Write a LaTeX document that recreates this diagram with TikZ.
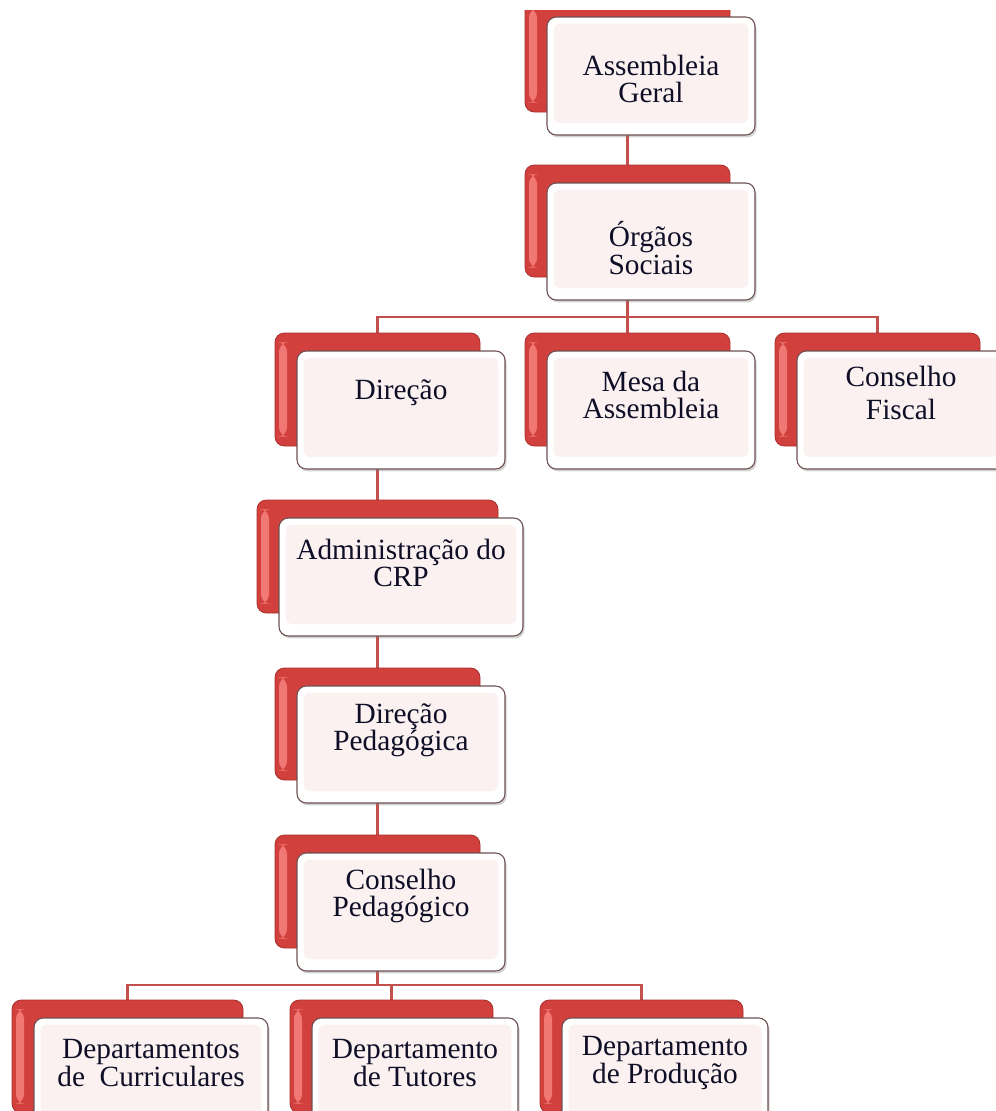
\documentclass[tikz,border=0pt]{standalone}
\usepackage{fontspec}
\setmainfont{Liberation Serif}
\usetikzlibrary{shadows}
\pgfdeclarelayer{background}
\pgfsetlayers{background,main}
\definecolor{redmain}{HTML}{D2403D}
\definecolor{reddark}{HTML}{A8302D}
\definecolor{redhi}{HTML}{F27A76}
\definecolor{linecol}{HTML}{C4504E}
\definecolor{wborder}{HTML}{6E5050}
\definecolor{pinkfill}{HTML}{FBF1F1}
\definecolor{textcol}{HTML}{0E0E26}
\newcommand\pxu{0.75pt}
\tikzset{
  redbox/.style={rectangle, rounded corners=7pt, fill=redmain, draw=reddark, line width=0.6pt,
    path picture={
      \shade[left color=redhi, right color=redmain] ([xshift=3pt,yshift=-7pt]path picture bounding box.north west) rectangle ([xshift=9pt,yshift=7pt]path picture bounding box.south west);
    }},
  whitebox/.style={rectangle, rounded corners=7pt, fill=white, draw=wborder, line width=0.8pt,
    drop shadow={shadow xshift=1.2pt, shadow yshift=-1.8pt, opacity=0.35},
    path picture={
      \fill[pinkfill, rounded corners=5pt] ([shift={(5pt,-5pt)}]path picture bounding box.north west) rectangle ([shift={(-5pt,9pt)}]path picture bounding box.south east);
    }},
  txt/.style={font=\fontsize{22}{20.5}\selectfont, text=textcol, align=center, inner sep=0pt},
  conn/.style={draw=linecol, line width=1.6pt},
}
% #1 name, #2 x, #3 y (red top-left, px), #4 red width, #5 red height, #6 text centre y, #7 text
\newcommand\orgunit[7]{%
  \node[redbox, minimum width=#4*\pxu, minimum height=#5*\pxu] (#1-r) at (#2+#4/2, #3+#5/2) {};
  \node[whitebox, minimum width=(#4+3)*\pxu, minimum height=(#5+5)*\pxu] (#1) at (#2+22+#4/2+1.5, #3+18+#5/2+2.5) {};
  \node[txt] (#1-t) at (#2+22+#4/2+1.5, #6) {#7};
}
\begin{document}
\begin{tikzpicture}[x=0.75pt,y=-0.75pt]
\path[use as bounding box] (0,0) rectangle (996,1111);
\begin{scope}
\clip (0,10) rectangle (996,1111);
\orgunit{ag}{525}{-1}{205}{113}{79}{Assembleia\\Geral}
\orgunit{os}{525}{165}{205}{112}{248}{Órgãos\\Sociais}
\orgunit{dir}{275}{333}{205}{113}{393}{Direção}
\orgunit{mesa}{525}{333}{205}{113}{395}{Mesa da\\Assembleia}
\orgunit{cf}{775}{333}{205}{113}{393}{Conselho\\[4pt]Fiscal}
\orgunit{adm}{257}{500}{241}{113}{563}{Administração do\\CRP}
\orgunit{dped}{275}{668}{205}{112}{730}{Direção\\Pedagógica}
\orgunit{cp}{275}{835}{205}{113}{896}{Conselho\\Pedagógico}
\orgunit{dc}{12}{1000}{231}{113}{1063}{Departamentos\\de~ Curriculares}
\orgunit{dt}{290}{1000}{203}{113}{1063}{Departamento\\de Tutores}
\orgunit{dp}{540}{1000}{203}{113}{1063}{Departamento\\de Produção}
\end{scope}
\begin{pgfonlayer}{background}
\coordinate (busA) at (627.5,317);
\coordinate (busB) at (377.5,985);
\draw[conn] (ag-r.south) -- (os-r.north);
\draw[conn] (os-r.south) -- (busA);
\draw[conn] (busA) -| (dir-r.north);
\draw[conn] (busA) -| (mesa-r.north);
\draw[conn] (busA) -| (cf-r.north);
\draw[conn] (dir-r.south) -- (adm-r.north);
\draw[conn] (adm-r.south) -- (dped-r.north);
\draw[conn] (dped-r.south) -- (cp-r.north);
\draw[conn] (cp-r.south) -- (busB);
\draw[conn] (busB) -| (dc-r.north);
\draw[conn] (busB) -| (dt-r.north);
\draw[conn] (busB) -| (dp-r.north);
\end{pgfonlayer}
\end{tikzpicture}
\end{document}
